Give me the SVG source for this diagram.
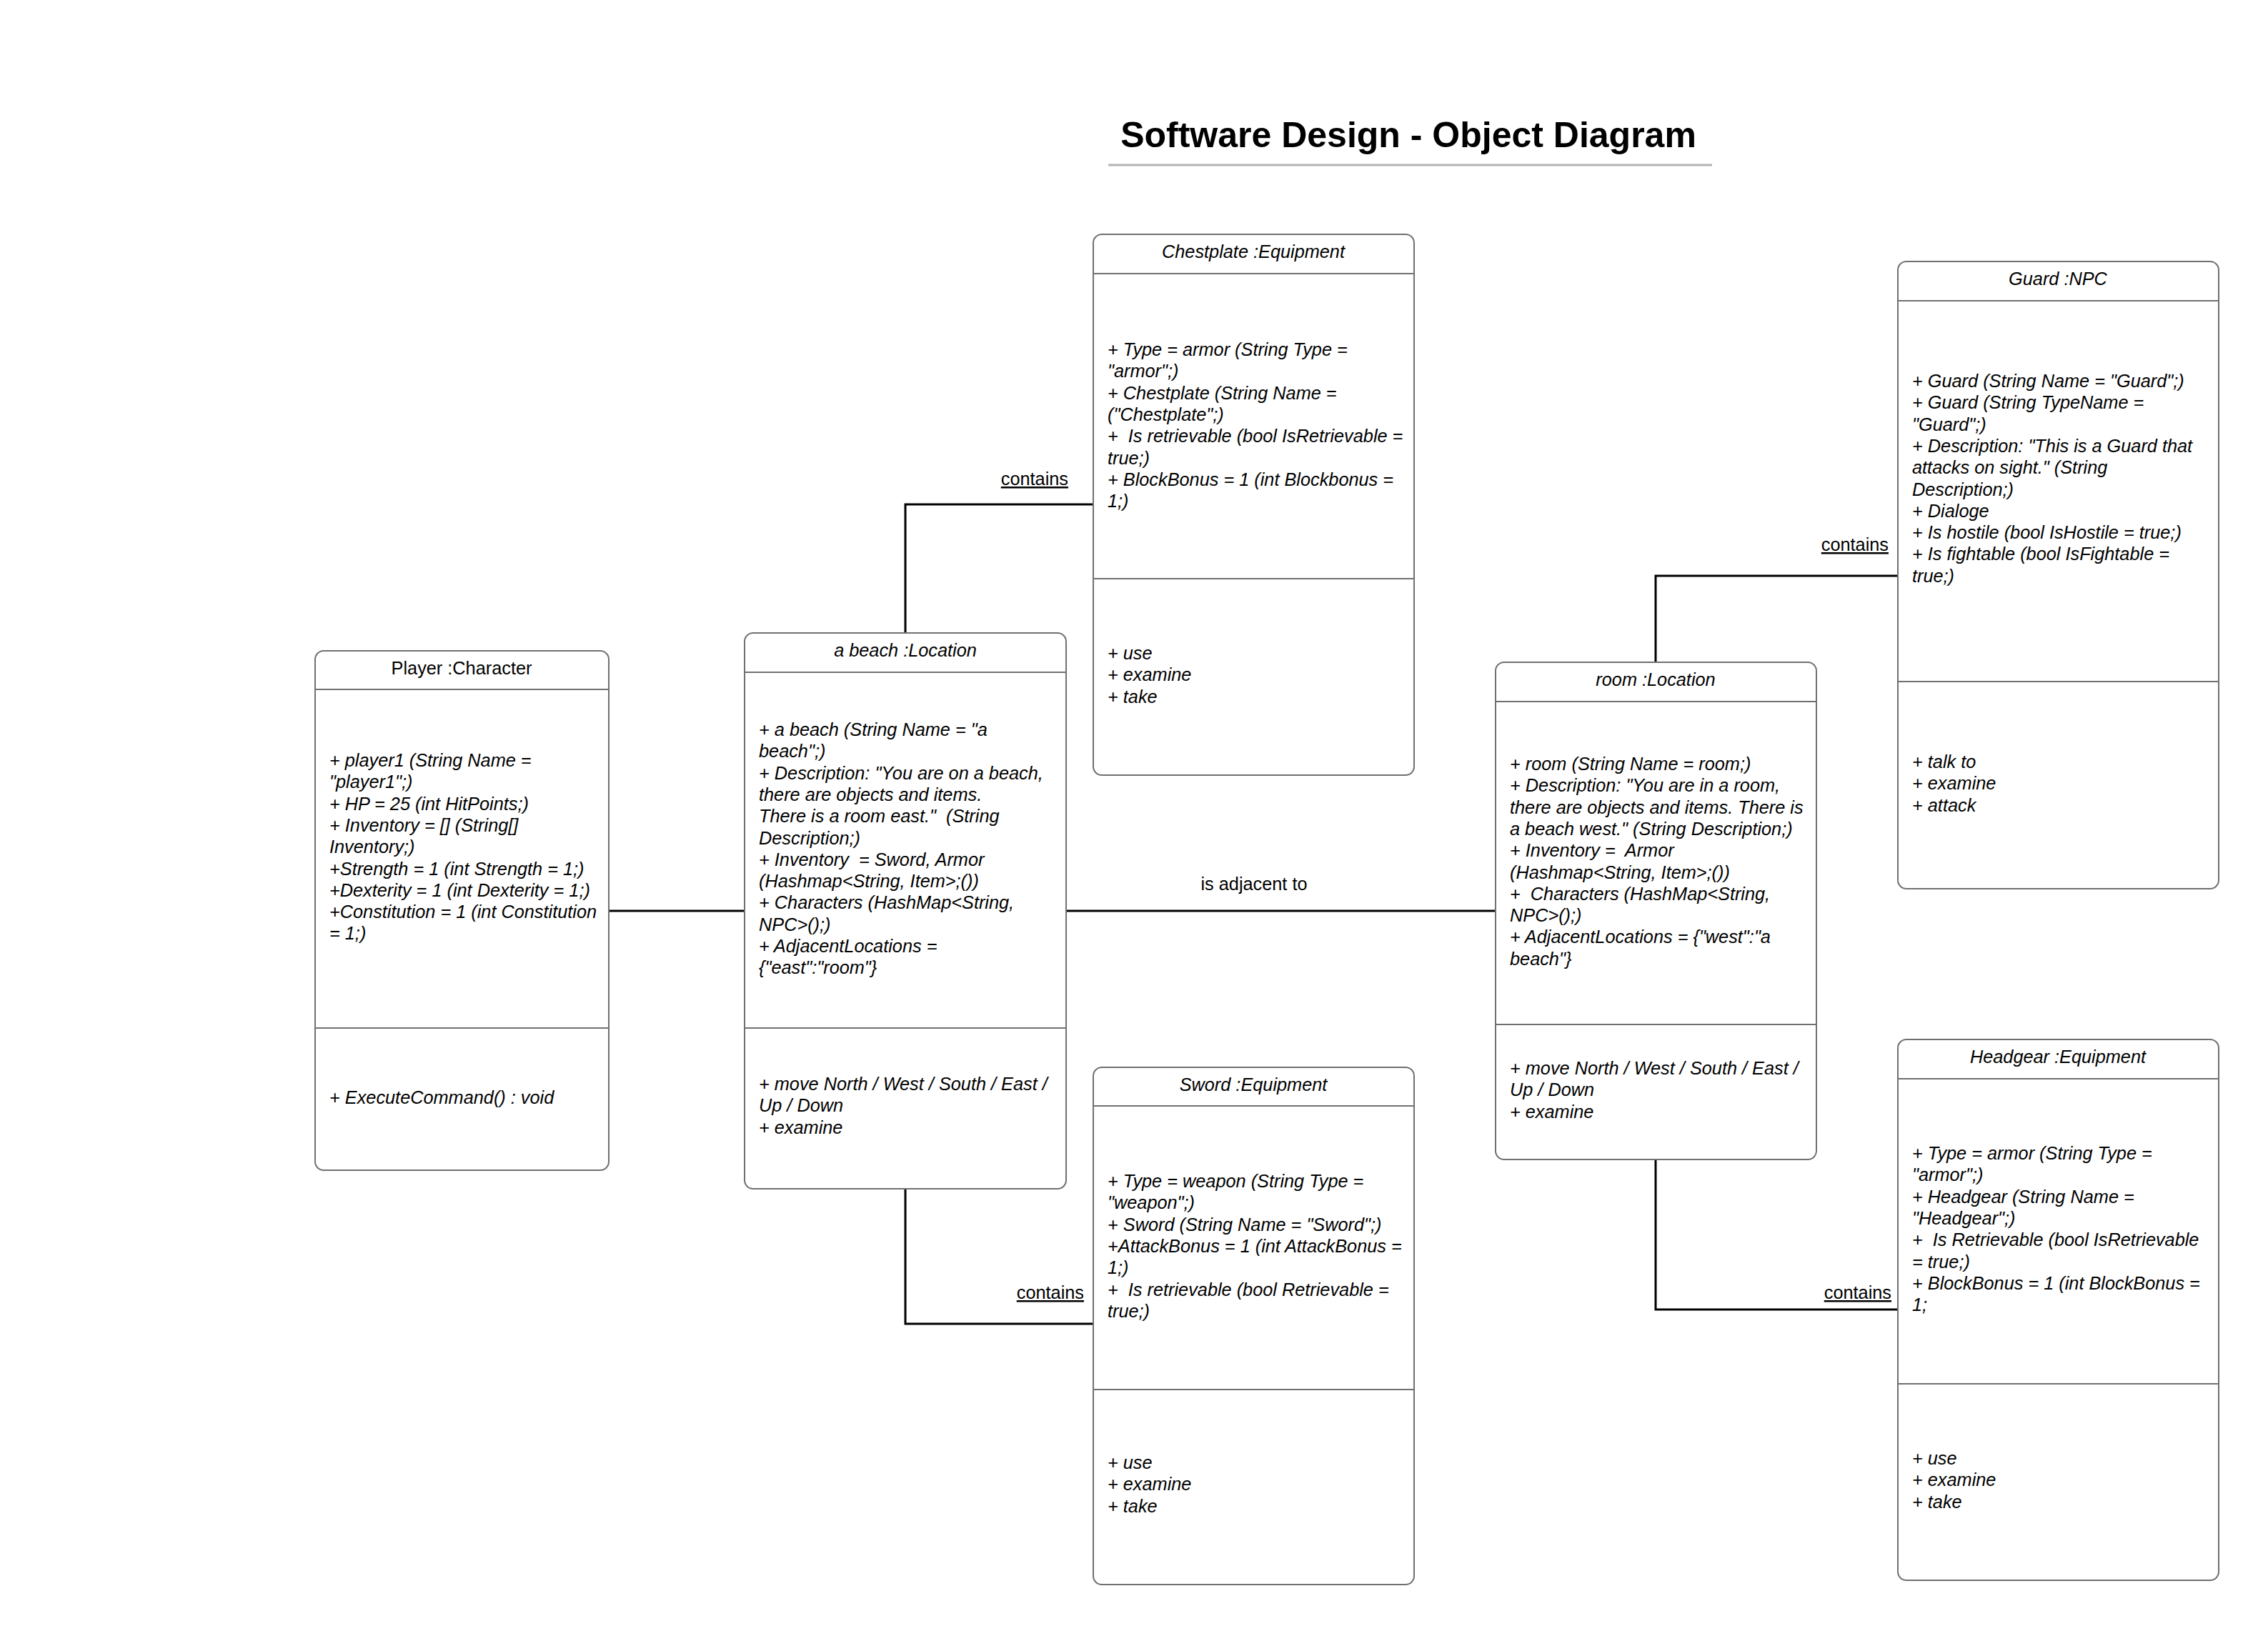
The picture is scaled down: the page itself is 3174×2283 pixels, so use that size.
<svg xmlns="http://www.w3.org/2000/svg" width="3174" height="2283" viewBox="0 0 3174 2283">
<style>
.box{fill:#fff;stroke:#707070;stroke-width:2}
.dv{stroke:#707070;stroke-width:2}
.t{font-family:"Liberation Sans",Arial,sans-serif;font-size:25.3px;fill:#000;white-space:pre}
.i{font-style:italic}
.c{text-anchor:middle}
.e{text-anchor:end}
.u{text-decoration:underline}
.conn{fill:none;stroke:#000;stroke-width:3}
.ttl{font-family:"Liberation Sans",Arial,sans-serif;font-size:50px;font-weight:bold;fill:#000;text-anchor:middle}
</style>
<rect width="3174" height="2283" fill="#fff"/>
<g id="title">
<text class="ttl" x="1971" y="206">Software Design - Object Diagram</text>
<line x1="1551" y1="231" x2="2396" y2="231" stroke="#b3b3b3" stroke-width="3"/>
</g>
<g id="connectors">
<line class="conn" x1="852" y1="1275" x2="1042" y2="1275"/>
<line class="conn" x1="1492" y1="1275" x2="2093" y2="1275"/>
<text class="t c" x="1755" y="1246">is adjacent to</text>
<polyline class="conn" points="1267,886 1267,706 1530,706"/>
<text class="t e u" x="1495" y="679">contains</text>
<polyline class="conn" points="1267,1664 1267,1853 1530,1853"/>
<text class="t e u" x="1517" y="1818">contains</text>
<polyline class="conn" points="2317,927 2317,806 2656,806"/>
<text class="t e u" x="2643" y="771">contains</text>
<polyline class="conn" points="2317,1623 2317,1833 2656,1833"/>
<text class="t e u" x="2647" y="1818">contains</text>
</g>
<g id="player">
<rect class="box" x="441" y="911" width="411" height="727" rx="12"/>
<line class="dv" x1="441" y1="965" x2="852" y2="965"/>
<line class="dv" x1="441" y1="1439" x2="852" y2="1439"/>
<text class="t c" x="646" y="944">Player :Character</text>
<text class="t i" x="461" y="1073"><tspan x="461">+ player1 (String Name =</tspan><tspan x="461" dy="30.3">"player1";)</tspan><tspan x="461" dy="30.3">+ HP = 25 (int HitPoints;)</tspan><tspan x="461" dy="30.3">+ Inventory = [] (String[]</tspan><tspan x="461" dy="30.3">Inventory;)</tspan><tspan x="461" dy="30.3">+Strength = 1 (int Strength = 1;)</tspan><tspan x="461" dy="30.3">+Dexterity = 1 (int Dexterity = 1;)</tspan><tspan x="461" dy="30.3">+Constitution = 1 (int Constitution</tspan><tspan x="461" dy="30.3">= 1;)</tspan></text>
<text class="t i" x="461" y="1545">+ ExecuteCommand() : void</text>
</g>
<g id="beach">
<rect class="box" x="1042" y="886" width="450" height="778" rx="12"/>
<line class="dv" x1="1042" y1="941" x2="1492" y2="941"/>
<line class="dv" x1="1042" y1="1439" x2="1492" y2="1439"/>
<text class="t i c" x="1267" y="919">a beach :Location</text>
<text class="t i" x="1062" y="1030"><tspan x="1062">+ a beach (String Name = "a</tspan><tspan x="1062" dy="30.3">beach";)</tspan><tspan x="1062" dy="30.3">+ Description: "You are on a beach,</tspan><tspan x="1062" dy="30.3">there are objects and items.</tspan><tspan x="1062" dy="30.3">There is a room east."  (String</tspan><tspan x="1062" dy="30.3">Description;)</tspan><tspan x="1062" dy="30.3">+ Inventory  = Sword, Armor</tspan><tspan x="1062" dy="30.3">(Hashmap&lt;String, Item&gt;;())</tspan><tspan x="1062" dy="30.3">+ Characters (HashMap&lt;String,</tspan><tspan x="1062" dy="30.3">NPC&gt;();)</tspan><tspan x="1062" dy="30.3">+ AdjacentLocations =</tspan><tspan x="1062" dy="30.3">{"east":"room"}</tspan></text>
<text class="t i" x="1062" y="1526"><tspan x="1062">+ move North / West / South / East /</tspan><tspan x="1062" dy="30.3">Up / Down</tspan><tspan x="1062" dy="30.3">+ examine</tspan></text>
</g>
<g id="room">
<rect class="box" x="2093" y="927" width="449" height="696" rx="12"/>
<line class="dv" x1="2093" y1="982" x2="2542" y2="982"/>
<line class="dv" x1="2093" y1="1434" x2="2542" y2="1434"/>
<text class="t i c" x="2317" y="960">room :Location</text>
<text class="t i" x="2113" y="1078"><tspan x="2113">+ room (String Name = room;)</tspan><tspan x="2113" dy="30.3">+ Description: "You are in a room,</tspan><tspan x="2113" dy="30.3">there are objects and items. There is</tspan><tspan x="2113" dy="30.3">a beach west." (String Description;)</tspan><tspan x="2113" dy="30.3">+ Inventory =  Armor</tspan><tspan x="2113" dy="30.3">(Hashmap&lt;String, Item&gt;;())</tspan><tspan x="2113" dy="30.3">+  Characters (HashMap&lt;String,</tspan><tspan x="2113" dy="30.3">NPC&gt;();)</tspan><tspan x="2113" dy="30.3">+ AdjacentLocations = {"west":"a</tspan><tspan x="2113" dy="30.3">beach"}</tspan></text>
<text class="t i" x="2113" y="1504"><tspan x="2113">+ move North / West / South / East /</tspan><tspan x="2113" dy="30.3">Up / Down</tspan><tspan x="2113" dy="30.3">+ examine</tspan></text>
</g>
<g id="chestplate">
<rect class="box" x="1530" y="328" width="449" height="757" rx="12"/>
<line class="dv" x1="1530" y1="383" x2="1979" y2="383"/>
<line class="dv" x1="1530" y1="810" x2="1979" y2="810"/>
<text class="t i c" x="1754" y="361">Chestplate :Equipment</text>
<text class="t i" x="1550" y="498"><tspan x="1550">+ Type = armor (String Type =</tspan><tspan x="1550" dy="30.3">"armor";)</tspan><tspan x="1550" dy="30.3">+ Chestplate (String Name =</tspan><tspan x="1550" dy="30.3">("Chestplate";)</tspan><tspan x="1550" dy="30.3">+  Is retrievable (bool IsRetrievable =</tspan><tspan x="1550" dy="30.3">true;)</tspan><tspan x="1550" dy="30.3">+ BlockBonus = 1 (int Blockbonus =</tspan><tspan x="1550" dy="30.3">1;)</tspan></text>
<text class="t i" x="1550" y="923"><tspan x="1550">+ use</tspan><tspan x="1550" dy="30.3">+ examine</tspan><tspan x="1550" dy="30.3">+ take</tspan></text>
</g>
<g id="guard">
<rect class="box" x="2656" y="366" width="449" height="878" rx="12"/>
<line class="dv" x1="2656" y1="421" x2="3105" y2="421"/>
<line class="dv" x1="2656" y1="954" x2="3105" y2="954"/>
<text class="t i c" x="2880" y="399">Guard :NPC</text>
<text class="t i" x="2676" y="542"><tspan x="2676">+ Guard (String Name = "Guard";)</tspan><tspan x="2676" dy="30.3">+ Guard (String TypeName =</tspan><tspan x="2676" dy="30.3">"Guard";)</tspan><tspan x="2676" dy="30.3">+ Description: "This is a Guard that</tspan><tspan x="2676" dy="30.3">attacks on sight." (String</tspan><tspan x="2676" dy="30.3">Description;)</tspan><tspan x="2676" dy="30.3">+ Dialoge</tspan><tspan x="2676" dy="30.3">+ Is hostile (bool IsHostile = true;)</tspan><tspan x="2676" dy="30.3">+ Is fightable (bool IsFightable =</tspan><tspan x="2676" dy="30.3">true;)</tspan></text>
<text class="t i" x="2676" y="1075"><tspan x="2676">+ talk to</tspan><tspan x="2676" dy="30.3">+ examine</tspan><tspan x="2676" dy="30.3">+ attack</tspan></text>
</g>
<g id="sword">
<rect class="box" x="1530" y="1494" width="449" height="724" rx="12"/>
<line class="dv" x1="1530" y1="1548" x2="1979" y2="1548"/>
<line class="dv" x1="1530" y1="1945" x2="1979" y2="1945"/>
<text class="t i c" x="1754" y="1527">Sword :Equipment</text>
<text class="t i" x="1550" y="1662"><tspan x="1550">+ Type = weapon (String Type =</tspan><tspan x="1550" dy="30.3">"weapon";)</tspan><tspan x="1550" dy="30.3">+ Sword (String Name = "Sword";)</tspan><tspan x="1550" dy="30.3">+AttackBonus = 1 (int AttackBonus =</tspan><tspan x="1550" dy="30.3">1;)</tspan><tspan x="1550" dy="30.3">+  Is retrievable (bool Retrievable =</tspan><tspan x="1550" dy="30.3">true;)</tspan></text>
<text class="t i" x="1550" y="2056"><tspan x="1550">+ use</tspan><tspan x="1550" dy="30.3">+ examine</tspan><tspan x="1550" dy="30.3">+ take</tspan></text>
</g>
<g id="headgear">
<rect class="box" x="2656" y="1455" width="449" height="757" rx="12"/>
<line class="dv" x1="2656" y1="1510" x2="3105" y2="1510"/>
<line class="dv" x1="2656" y1="1937" x2="3105" y2="1937"/>
<text class="t i c" x="2880" y="1488">Headgear :Equipment</text>
<text class="t i" x="2676" y="1623"><tspan x="2676">+ Type = armor (String Type =</tspan><tspan x="2676" dy="30.3">"armor";)</tspan><tspan x="2676" dy="30.3">+ Headgear (String Name =</tspan><tspan x="2676" dy="30.3">"Headgear";)</tspan><tspan x="2676" dy="30.3">+  Is Retrievable (bool IsRetrievable</tspan><tspan x="2676" dy="30.3">= true;)</tspan><tspan x="2676" dy="30.3">+ BlockBonus = 1 (int BlockBonus =</tspan><tspan x="2676" dy="30.3">1;</tspan></text>
<text class="t i" x="2676" y="2050"><tspan x="2676">+ use</tspan><tspan x="2676" dy="30.3">+ examine</tspan><tspan x="2676" dy="30.3">+ take</tspan></text>
</g>
</svg>
